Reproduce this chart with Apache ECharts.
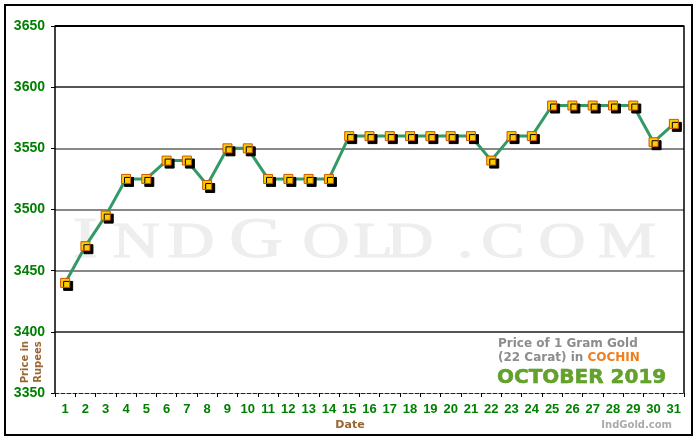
<!DOCTYPE html>
<html>
<head>
<meta charset="utf-8">
<script src="https://cdn.jsdelivr.net/npm/echarts@6/dist/echarts.min.js"></script>
<style>html,body{margin:0;padding:0;background:#fff}#c{width:700px;height:440px}</style>
</head>
<body>
<div id="c"></div>
<script>
const days = ['1','2','3','4','5','6','7','8','9','10','11','12','13','14','15','16','17','18','19','20','21','22','23','24','25','26','27','28','29','30','31'];
const prices = [3440,3470,3495,3525,3525,3540,3540,3520,3550,3550,3525,3525,3525,3525,3560,3560,3560,3560,3560,3560,3560,3540,3560,3560,3585,3585,3585,3585,3585,3555,3570];
const yMin = 3350, yMax = 3650, yStep = 50;

const chart = echarts.init(document.getElementById('c'), null, {renderer:'canvas'});

// watermark letters (decoration)
const wm = [['I',85,true],['N',136,false],['D',191,false],['G',256,true],['O',326,false],['L',373,false],['D',410,false],['.',465,false],['C',503,false],['O',562,false],['M',627,false]];
const wmEls = wm.map(w => {
  const fs = w[2] ? 57 : 50;
  return {
    type:'text', x:w[1], y:258 + Math.round(fs*0.22), z:0, silent:true, scaleX:1.3,
    style:{text:w[0], font:'normal '+fs+'px "Liberation Serif", serif', fill:'#eeeeee', stroke:'#eeeeee', lineWidth:1.2, align:'center', verticalAlign:'bottom'}
  };
});

chart.setOption({
  animation:false,
  grid:{left:55, right:16, top:26, bottom:47, show:false},
  xAxis:{
    type:'category', data:days, boundaryGap:true,
    axisLine:{lineStyle:{color:'#222', type:'dashed', width:1}},
    axisTick:{show:true, length:4, inside:false, alignWithLabel:false, lineStyle:{color:'#000'}},
    axisLabel:{color:'#008000', fontFamily:'Liberation Sans, Arial', fontSize:13, fontWeight:'bold', margin:10, interval:0},
    splitLine:{show:false}
  },
  yAxis:[{
    type:'value', min:yMin, max:yMax, interval:yStep,
    axisLine:{show:true, lineStyle:{color:'#000', width:1.5}},
    axisTick:{show:true, length:4, lineStyle:{color:'#000'}},
    axisLabel:{color:'#008000', fontFamily:'Liberation Sans, Arial', fontSize:14, fontWeight:'bold', margin:10, formatter:v => String(v)},
    splitLine:{show:true, lineStyle:{color:['transparent','#555','#888','#888','#888','#555','#000'], width:2}}
  },{
    type:'value', min:yMin, max:yMax, interval:yStep, position:'right',
    axisLine:{show:true, lineStyle:{color:'#000', width:1.5}},
    axisTick:{show:false}, axisLabel:{show:false}, splitLine:{show:false}
  }],
  graphic:[
    {type:'rect', shape:{x:5, y:5, width:687, height:430}, style:{fill:'none', stroke:'#000', lineWidth:2}, z:-10, silent:true},
    ...wmEls,
    {type:'text', x:350, y:425, style:{text:'Date', font:'bold 11px "DejaVu Sans", Verdana', fill:'#996633', align:'center', verticalAlign:'middle'}},
    {type:'text', x:32, y:362, rotation:Math.PI/2, style:{text:'Price in\nRupees', font:'bold 10px "DejaVu Sans", Verdana', fill:'#996633', align:'center', verticalAlign:'middle', lineHeight:13}},
    {type:'text', x:498, y:344, style:{text:'Price of 1 Gram Gold', font:'bold 12px "DejaVu Sans", Verdana', fill:'#8c8c8c', verticalAlign:'middle'}},
    {type:'text', x:498, y:358, style:{
      text:'{g|(22 Carat) in }{o|COCHIN}', verticalAlign:'middle',
      rich:{g:{font:'bold 12px "DejaVu Sans", Verdana', fill:'#8c8c8c'}, o:{font:'bold 12px "DejaVu Sans", Verdana', fill:'#f07d1e'}}
    }},
    {type:'text', x:497, y:378, style:{text:'OCTOBER 2019', font:'bold 20px "DejaVu Sans", Verdana', fill:'#62a12a', stroke:'#4d8a1c', lineWidth:0.5, verticalAlign:'middle'}},
    {type:'text', x:672, y:425, style:{text:'IndGold.com', font:'bold 10px "DejaVu Sans", Verdana', fill:'#aaaaaa', align:'right', verticalAlign:'middle'}}
  ],
  series:[{
    type:'line', data:prices, yAxisIndex:0, z:5,
    lineStyle:{color:'#339966', width:3},
    symbol:'rect', symbolSize:9,
    itemStyle:{color:'#ffcc00', borderColor:'#cc5500', borderWidth:1, shadowColor:'#000', shadowBlur:0, shadowOffsetX:3, shadowOffsetY:3},
    emphasis:{disabled:true}
  }]
});
</script>
</body>
</html>
